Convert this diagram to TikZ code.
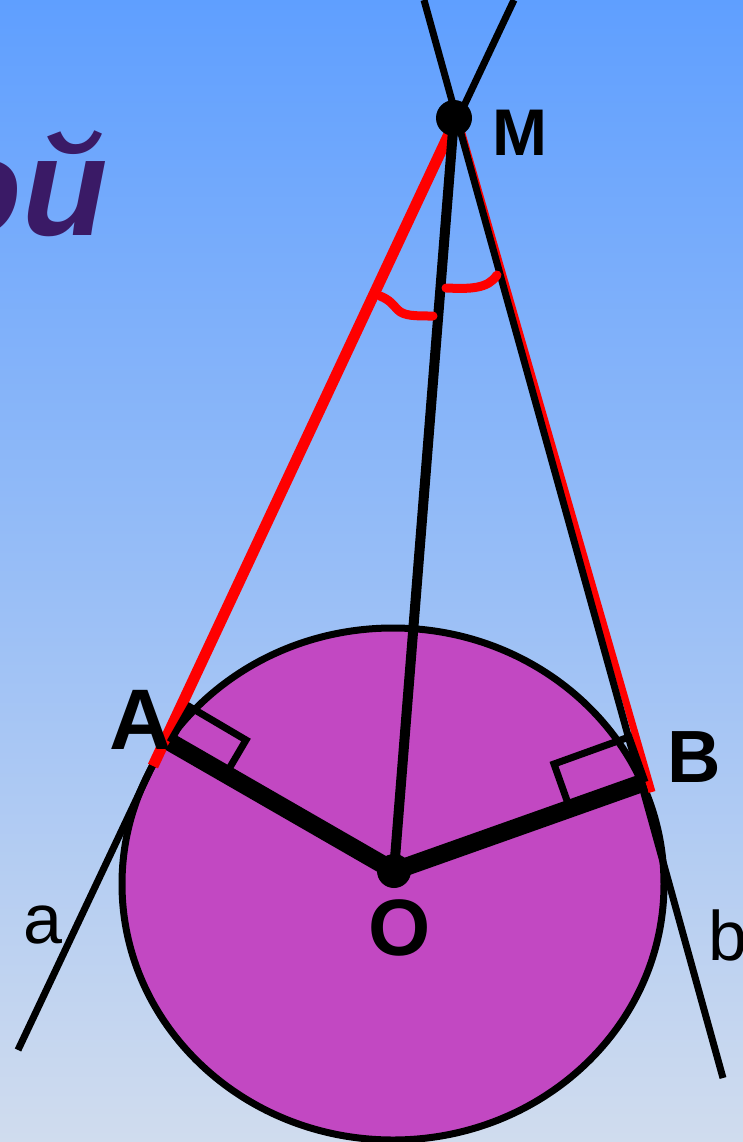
\documentclass[tikz,border=0pt]{standalone}
\usepackage{fontspec}
\setmainfont{Liberation Sans}
\usetikzlibrary{calc}
\definecolor{bgtop}{HTML}{5F9FFF}
\definecolor{bgmid}{HTML}{8FC3FA}
\definecolor{bgbot}{HTML}{D0DCEE}
\definecolor{disk}{HTML}{C248C2}
\definecolor{titlecol}{HTML}{3A1A66}
\definecolor{redline}{HTML}{FF0000}
\tikzset{
  thinline/.style={line width=3.5pt,black},
  radius line/.style={line width=9pt,black},
  redseg/.style={line width=5.5pt,redline},
  anglemark/.style={line width=4.5pt,redline,line cap=round},
  dot/.style={circle,fill=black,inner sep=0pt,minimum size=17pt},
  biglabel/.style={font=\bfseries},
  rectmark/.style={line width=3.5pt,black},
}
\begin{document}
\begin{tikzpicture}[x=0.5pt,y=-0.5pt]
\useasboundingbox (0,0) rectangle (743,1142);
\clip (0,0) rectangle (743,1142);
\shade[top color=bgtop,middle color=bgmid,bottom color=bgbot] (0,0) rectangle (743,1142);
% title fragment
\node[anchor=base east,inner sep=0pt,text=titlecol,font=\fontsize{70pt}{78pt}\selectfont\bfseries\itshape] (title) at (108,235) {ой};
% key points
\coordinate (M) at (454,118);
\coordinate (O) at (394,871);
\coordinate (A) at (170,742);
\coordinate (B) at (645,782);
\coordinate (aTop) at (514,0);
\coordinate (aBot) at (18,1050);
\coordinate (bTop) at (424,0);
\coordinate (bBot) at (723,1078);
% disk
\draw[line width=3.5pt,fill=disk] (393,884) ellipse [x radius=271, y radius=256];
% tangent lines
\draw[thinline] (aTop) -- (aBot);
\draw[redseg,line width=3.5pt] ($(M)+(3.5,0)$) -- ($(B)+(7,10)$);
\draw[thinline] (bTop) -- (bBot);
\draw[redseg] ($(M)+(2.5,0)$) -- (153,766);
% right-angle marks
\draw[rectmark] (A) -- (190,707) -- (246,740) -- (226,774);
\draw[rectmark] (570,809) -- (554,764) -- (629,737) -- (B);
% radii and MO
\draw[radius line] (A) -- (O);
\draw[radius line] (B) -- (O);
\draw[line width=5pt] (O) -- (M);
% angle marks
\draw[anglemark] (380,296) .. controls (390,300) and (392,304) .. (398,310) .. controls (404,316) and (415,316) .. (433,316);
\draw[anglemark] (446,288) .. controls (470,289) and (488,289) .. (497,275);
% dots
\node[dot,minimum size=18pt] (Mdot) at (M) {};
\node[dot] (Odot) at (O) {};
% labels
\node[biglabel,font=\fontsize{33pt}{36pt}\selectfont\bfseries] (Mlab) at (520,133) {M};
\node[biglabel,font=\fontsize{43pt}{46pt}\selectfont\bfseries] (Alab) at (141,720) {A};
\node[biglabel,font=\fontsize{37pt}{40pt}\selectfont\bfseries] (Blab) at (694,757) {B};
\node[biglabel,font=\fontsize{40pt}{44pt}\selectfont\bfseries] (Olab) at (400,928) {O};
\node[font=\fontsize{35pt}{38pt}\selectfont] (alab) at (43,925) {a};
\node[font=\fontsize{35pt}{38pt}\selectfont] (blab) at (728,935) {b};
\end{tikzpicture}
\end{document}
